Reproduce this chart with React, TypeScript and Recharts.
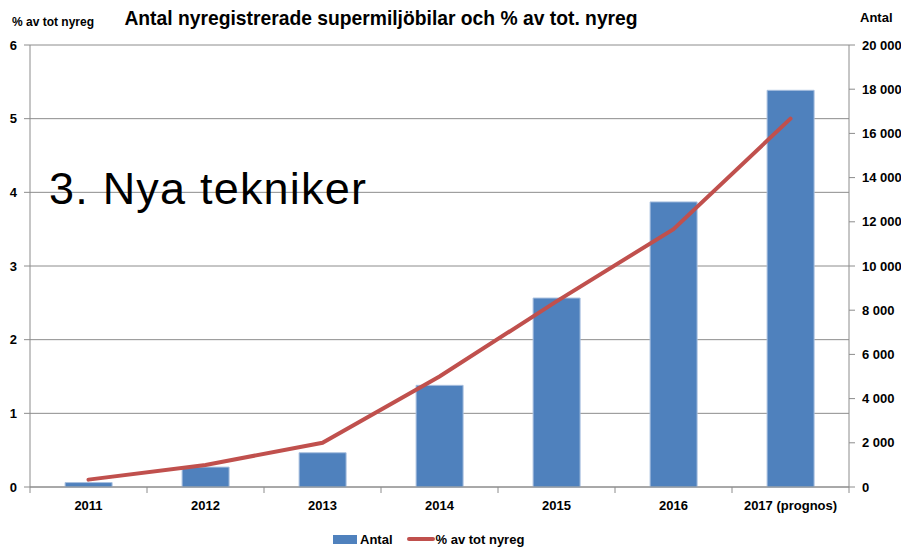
import React from 'react';
import { ComposedChart, Bar, Line, XAxis, YAxis, CartesianGrid, Legend } from 'recharts';

const years = ['2011', '2012', '2013', '2014', '2015', '2016', '2017 (prognos)'];
const antal = [200, 900, 1550, 4600, 8550, 12900, 17950];
const andel = [0.1, 0.3, 0.6, 1.5, 2.52, 3.5, 5.0];
const leftTicks = [0, 1, 2, 3, 4, 5, 6];
const rightTicks = [0, 2000, 4000, 6000, 8000, 10000, 12000, 14000, 16000, 18000, 20000];

const data = years.map((y, i) => ({ year: y, antal: antal[i], andel: andel[i] }));

const FONT = '"Liberation Sans", Arial, sans-serif';
const AXIS_GRAY = '#8c8c8c';
const BLUE = '#4F81BD';
const RED = '#C0504D';

const fmt = (n: number) => String(n).replace(/\B(?=(\d{3})+(?!\d))/g, ' ');

const XTick = (props: any) => {
  const { x, y, payload, index, visibleTicksCount } = props;
  const off = payload && payload.offset != null ? payload.offset : 0;
  const axisY = y - 14;
  return (
    <g>
      <line x1={x - off} x2={x - off} y1={axisY} y2={axisY + 6} stroke={AXIS_GRAY} strokeWidth={1} />
      {index === visibleTicksCount - 1 ? (
        <line x1={x + off} x2={x + off} y1={axisY} y2={axisY + 6} stroke={AXIS_GRAY} strokeWidth={1} />
      ) : null}
      <text x={x} y={y} dy="0.72em" textAnchor="middle" fontFamily={FONT} fontWeight="bold" fontSize={13} fill="#000">
        {payload.value}
      </text>
    </g>
  );
};

const LegendContent = (props: any) => {
  const items = [...(props.payload || [])].sort((a: any, b: any) => (a.type === 'line' ? 1 : 0) - (b.type === 'line' ? 1 : 0));
  return (
    <div style={{ display: 'flex', alignItems: 'center', height: 16, fontFamily: FONT, fontWeight: 'bold', fontSize: 13, color: '#000' }}>
      {items.map((p: any, i: number) => (
        <div key={i} style={{ display: 'flex', alignItems: 'center', marginRight: 14 }}>
          {p.type === 'line' ? (
            <div style={{ width: 28, height: 4, background: p.color, borderRadius: 2, marginRight: 1 }} />
          ) : (
            <div style={{ width: 24, height: 9, background: p.color, marginRight: 3 }} />
          )}
          <span>{p.value}</span>
        </div>
      ))}
    </div>
  );
};

export default function App() {
  return (
    <div style={{ position: 'absolute', left: 0, top: 0, width: 901, height: 547, background: '#fff', overflow: 'hidden' }}>
      <ComposedChart width={901} height={547} data={data} margin={{ top: 45, right: 0, bottom: 0, left: 0 }} barCategoryGap="30%">
        <CartesianGrid yAxisId="left" vertical={false} stroke={AXIS_GRAY} strokeWidth={1} />
        <XAxis
          dataKey="year"
          height={44}
          tickLine={false}
          tickSize={6}
          tickMargin={8}
          axisLine={{ stroke: AXIS_GRAY }}
          tick={<XTick />}
          interval={0}
        />
        <YAxis
          yAxisId="left"
          orientation="left"
          width={30}
          domain={[0, 6]}
          ticks={leftTicks}
          interval={0}
          tickSize={6}
          tickMargin={7}
          axisLine={{ stroke: AXIS_GRAY }}
          tickLine={{ stroke: AXIS_GRAY }}
          tick={{ fontFamily: FONT, fontWeight: 'bold', fontSize: 13, fill: '#000' }}
        />
        <YAxis
          yAxisId="right"
          orientation="right"
          width={52}
          domain={[0, 20000]}
          ticks={rightTicks}
          interval={0}
          tickSize={6}
          tickMargin={7}
          tickFormatter={fmt}
          axisLine={{ stroke: AXIS_GRAY }}
          tickLine={{ stroke: AXIS_GRAY }}
          tick={{ fontFamily: FONT, fontWeight: 'bold', fontSize: 13, fill: '#000', textAnchor: 'start' }}
        />
        <Legend
          verticalAlign="bottom"
          align="left"
          content={<LegendContent />}
          wrapperStyle={{ left: 333, width: 'auto' }}
        />
        <Bar yAxisId="right" dataKey="antal" name="Antal" fill={BLUE} stroke="#a9c0df" strokeWidth={1} isAnimationActive={false} legendType="rect" />
        <Line
          yAxisId="left"
          dataKey="andel"
          name="% av tot nyreg"
          type="linear"
          stroke={RED}
          strokeWidth={4}
          dot={false}
          activeDot={false}
          strokeLinecap="round"
          isAnimationActive={false}
          legendType="line"
        />
      </ComposedChart>
      <svg width={901} height={547} style={{ position: 'absolute', left: 0, top: 0, pointerEvents: 'none' }}>
        <text x={381} y={25} textAnchor="middle" fontFamily={FONT} fontWeight="bold" fontSize={19.3} fill="#000">
          Antal nyregistrerade supermiljöbilar och % av tot. nyreg
        </text>
        <text x={12} y={26} fontFamily={FONT} fontWeight="bold" fontSize={12} fill="#000">
          % av tot nyreg
        </text>
        <text x={860} y={22} fontFamily={FONT} fontWeight="bold" fontSize={13} fill="#000">
          Antal
        </text>
        <text x={49} y={204} fontFamily={FONT} fontSize={45} letterSpacing={1.2} fill="#000">
          3. Nya tekniker
        </text>
      </svg>
    </div>
  );
}
